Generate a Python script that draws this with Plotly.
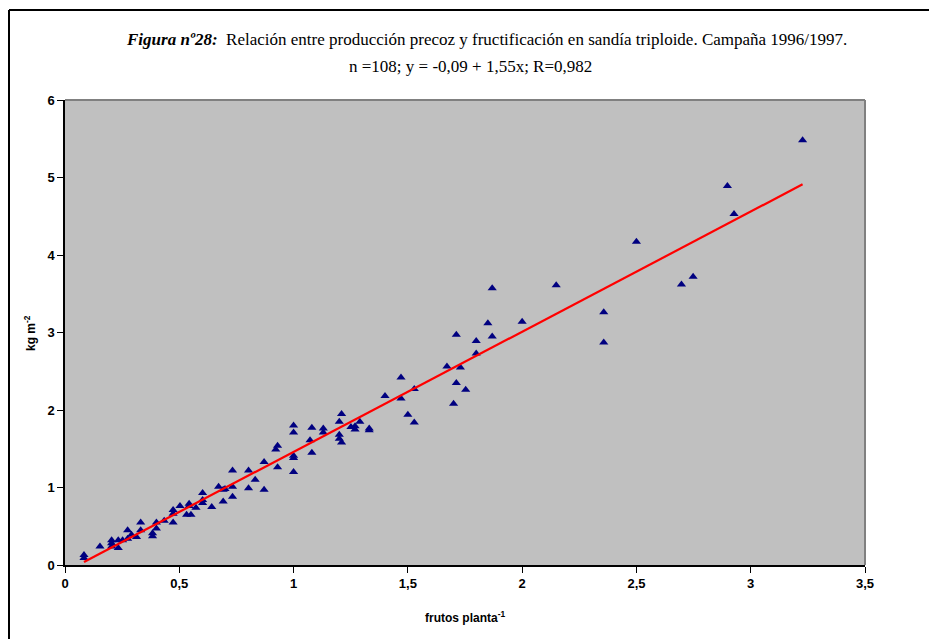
import plotly.graph_objects as go

# Data (frutos planta^-1 vs kg m^-2)
frutos = [0.083, 0.083, 0.153, 0.204, 0.204, 0.204, 0.233, 0.233, 0.252, 0.274,
          0.274, 0.291, 0.313, 0.331, 0.331, 0.383, 0.383, 0.40, 0.40, 0.434,
          0.473, 0.473, 0.473, 0.503, 0.532, 0.551, 0.543, 0.543, 0.573, 0.602,
          0.602, 0.602, 0.642, 0.672, 0.692, 0.70, 0.692, 0.733, 0.733, 0.733,
          0.803, 0.803, 0.832, 0.871, 0.871, 0.93, 0.922, 0.93, 1.0, 1.0,
          1.0, 1.0, 1.0, 1.08, 1.072, 1.08, 1.13, 1.13, 1.21, 1.20,
          1.20, 1.20, 1.21, 1.251, 1.269, 1.269, 1.29, 1.331, 1.331, 1.40,
          1.47, 1.47, 1.528, 1.50, 1.528, 1.671, 1.73, 1.712, 1.712, 1.70,
          1.753, 1.799, 1.799, 1.85, 1.869, 1.869, 2.0, 2.149, 2.357, 2.357,
          2.50, 2.697, 2.748, 2.898, 2.927, 3.227]
kg_m2 = [0.13, 0.09, 0.24, 0.32, 0.28, 0.24, 0.32, 0.22, 0.32, 0.45,
         0.34, 0.39, 0.36, 0.55, 0.45, 0.41, 0.37, 0.55, 0.47, 0.57,
         0.71, 0.66, 0.55, 0.76, 0.65, 0.65, 0.79, 0.76, 0.74, 0.93,
         0.84, 0.80, 0.75, 1.01, 0.97, 0.98, 0.82, 1.22, 1.01, 0.88,
         1.22, 0.99, 1.10, 1.33, 0.97, 1.54, 1.49, 1.26, 1.80, 1.71,
         1.41, 1.38, 1.20, 1.77, 1.61, 1.45, 1.76, 1.71, 1.95, 1.85,
         1.68, 1.63, 1.58, 1.78, 1.79, 1.75, 1.85, 1.76, 1.74, 2.18,
         2.42, 2.15, 2.27, 1.94, 1.84, 2.56, 2.55, 2.97, 2.35, 2.08,
         2.26, 2.89, 2.73, 3.12, 2.95, 3.57, 3.14, 3.61, 3.26, 2.87,
         4.17, 3.62, 3.72, 4.89, 4.53, 5.48]

# Regression given in the title
intercept = -0.09
slope = 1.55
line_x = [min(frutos), max(frutos)]
line_y = [intercept + slope * v for v in line_x]

x_ticks = [0, 0.5, 1, 1.5, 2, 2.5, 3, 3.5]
y_ticks = [0, 1, 2, 3, 4, 5, 6]

OFF = 8  # page body offset
WIN_W, WIN_H = 937, 639
W, H = WIN_W - OFF, WIN_H - OFF
# plot area in window pixels: x 65..865, y 100..565
L, T = 65 - OFF, 100 - OFF
R = W - (865 - OFF)
B = H - (565 - OFF)
pw, ph = W - L - R, H - T - B


def px(xp):  # window pixel -> paper x
    return (xp - OFF - L) / pw


def py(yp):  # window pixel -> paper y
    return (H - B - (yp - OFF)) / ph


fig = go.Figure()
fig.add_trace(go.Scatter(
    x=frutos, y=kg_m2, mode="markers",
    marker=dict(symbol="triangle-up", size=8, color="#000080",
                line=dict(width=0)),
    showlegend=False, hoverinfo="x+y"))
fig.add_trace(go.Scatter(
    x=line_x, y=line_y, mode="lines",
    line=dict(color="#FF0000", width=2.2),
    showlegend=False, hoverinfo="skip"))

tickfont = dict(family="Liberation Sans, Arial, sans-serif", size=13,
                color="black", weight="bold")

fig.update_layout(
    width=W, height=H,
    margin=dict(l=L, r=R, t=T, b=B),
    paper_bgcolor="white",
    plot_bgcolor="#C0C0C0",
    separators=",.",
    xaxis=dict(range=[0, 3.5], tickvals=x_ticks, showgrid=False,
               zeroline=False, showline=True, linecolor="black", linewidth=1.5,
               ticks="outside", ticklen=6, tickcolor="black", tickwidth=1,
               tickfont=tickfont, fixedrange=True),
    yaxis=dict(range=[0, 6], tickvals=y_ticks, showgrid=False,
               zeroline=False, showline=True, linecolor="black", linewidth=1.5,
               ticks="outside", ticklen=6, tickcolor="black", tickwidth=1,
               tickfont=tickfont, fixedrange=True),
    shapes=[
        # plot-area top and right border (grey)
        dict(type="line", xref="paper", yref="paper", x0=0, x1=1, y0=1, y1=1,
             line=dict(color="#808080", width=2)),
        dict(type="line", xref="paper", yref="paper", x0=1, x1=1, y0=0, y1=1,
             line=dict(color="#808080", width=2)),
        # outer chart frame (top and left)
        dict(type="line", xref="paper", yref="paper", x0=px(9), x1=px(WIN_W),
             y0=py(10), y1=py(10), line=dict(color="black", width=2)),
        dict(type="line", xref="paper", yref="paper", x0=px(9), x1=px(9),
             y0=py(10), y1=py(WIN_H), line=dict(color="black", width=2)),
    ],
    annotations=[
        dict(text="<b><i>Figura nº28:</i></b>  Relación entre producción precoz y "
                  "fructificación en sandía triploide. Campaña 1996/1997.",
             xref="paper", yref="paper", x=px(486), y=py(40),
             xanchor="center", yanchor="middle", showarrow=False,
             font=dict(family="Liberation Serif, Times New Roman, serif",
                       size=17, color="black")),
        dict(text="n =108; y = -0,09 + 1,55x; R=0,982",
             xref="paper", yref="paper", x=px(470), y=py(66),
             xanchor="center", yanchor="middle", showarrow=False,
             font=dict(family="Liberation Serif, Times New Roman, serif",
                       size=17, color="black")),
        dict(text="<b>kg m<sup>-2</sup></b>",
             xref="paper", yref="paper", x=px(30), y=py(333),
             xanchor="center", yanchor="middle", showarrow=False, textangle=-90,
             font=dict(family="Liberation Sans, Arial, sans-serif", size=12,
                       color="black")),
        dict(text="<b>frutos planta<sup>-1</sup></b>",
             xref="paper", yref="paper", x=px(465), y=py(617),
             xanchor="center", yanchor="middle", showarrow=False,
             font=dict(family="Liberation Sans, Arial, sans-serif", size=12,
                       color="black")),
    ],
)

fig.write_html("out.html")
